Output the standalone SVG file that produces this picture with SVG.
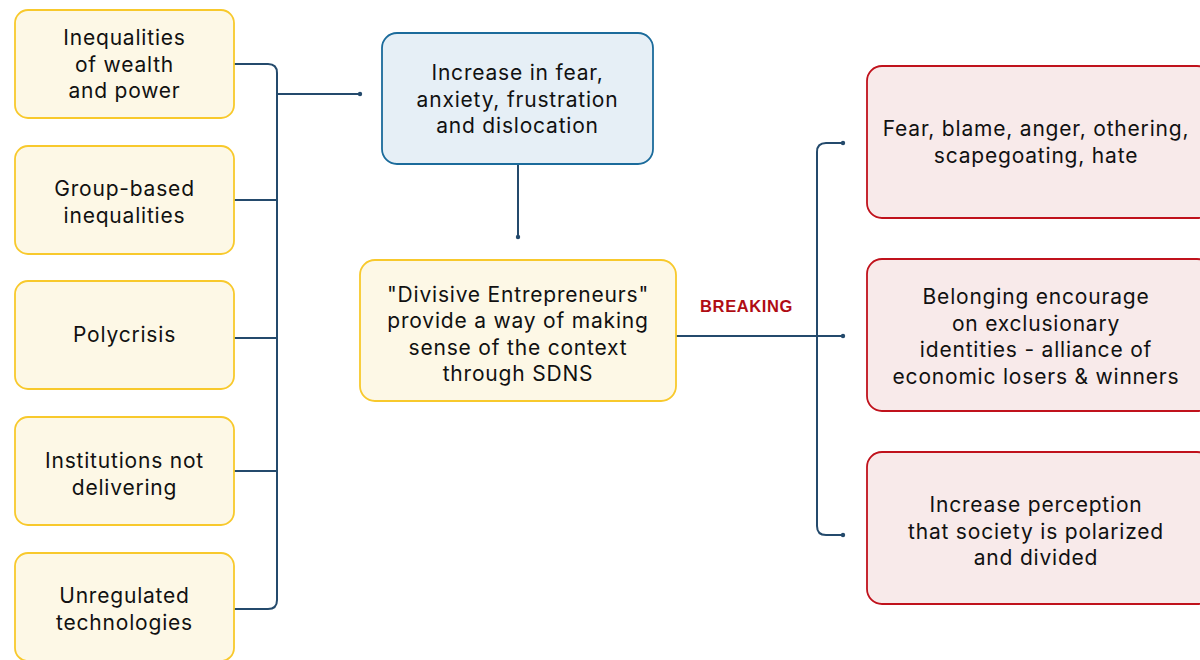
<svg xmlns="http://www.w3.org/2000/svg" width="1200" height="660" viewBox="0 0 1200 660">
<style>
.y{fill:#fdf8e6;stroke:#f8c92c;stroke-width:1.8}
.b{fill:#e6eff6;stroke:#1b6b9b;stroke-width:1.8}
.r{fill:#f8eaea;stroke:#c0121c;stroke-width:1.8}
.t{font-family:Inter,"Liberation Sans",sans-serif;font-size:21px;letter-spacing:0.8px;fill:#111;text-anchor:middle}
.c{fill:none;stroke:#244a6c;stroke-width:2}
.d{fill:#244a6c}
</style>
<rect width="1200" height="660" fill="#fff"/>
<g id="connectors">
<path class="c" d="M234 64 H268 Q277 64 277 73 V600 Q277 609 268 609 H234"/>
<path class="c" d="M234 200 H277 M234 338 H277 M234 471 H277 M277 94 H360"/>
<circle class="d" cx="360" cy="94" r="2.2"/>
<path class="c" d="M518 164 V237"/>
<circle class="d" cx="518" cy="237" r="2.2"/>
<path class="c" d="M676 336 H843"/>
<path class="c" d="M843 143 H826 Q817 143 817 152 V526 Q817 535 826 535 H843"/>
<circle class="d" cx="843" cy="143" r="2.2"/>
<circle class="d" cx="843" cy="336" r="2.2"/>
<circle class="d" cx="843" cy="535" r="2.2"/>
<text x="746.5" y="312" font-family="'Liberation Sans',Arial,sans-serif" font-size="16.5" font-weight="bold" letter-spacing="0.6" fill="#b00d14" text-anchor="middle">BREAKING</text>
</g>
<g id="n1"><rect class="y" x="15" y="10" width="219" height="108" rx="13"/>
<text class="t" x="124.5"><tspan x="124.5" y="45">Inequalities</tspan><tspan x="124.5" y="72">of wealth</tspan><tspan x="124.5" y="98">and power</tspan></text></g>
<g id="n2"><rect class="y" x="15" y="146" width="219" height="108" rx="13"/>
<text class="t"><tspan x="124.5" y="196">Group-based</tspan><tspan x="124.5" y="223">inequalities</tspan></text></g>
<g id="n3"><rect class="y" x="15" y="281" width="219" height="108" rx="13"/>
<text class="t" x="124.5" y="342">Polycrisis</text></g>
<g id="n4"><rect class="y" x="15" y="417" width="219" height="108" rx="13"/>
<text class="t"><tspan x="124.5" y="468">Institutions not</tspan><tspan x="124.5" y="495">delivering</tspan></text></g>
<g id="n5"><rect class="y" x="15" y="553" width="219" height="108" rx="13"/>
<text class="t"><tspan x="124.5" y="603">Unregulated</tspan><tspan x="124.5" y="630">technologies</tspan></text></g>
<g id="n6"><rect class="b" x="382" y="33" width="271" height="131" rx="15"/>
<text class="t"><tspan x="517.5" y="80">Increase in fear,</tspan><tspan x="517.5" y="107">anxiety, frustration</tspan><tspan x="517.5" y="133">and dislocation</tspan></text></g>
<g id="n7"><rect class="y" x="360" y="260" width="316" height="141" rx="15"/>
<text class="t"><tspan x="518" y="302">"Divisive Entrepreneurs"</tspan><tspan x="518" y="328">provide a way of making</tspan><tspan x="518" y="355">sense of the context</tspan><tspan x="518" y="381">through SDNS</tspan></text></g>
<g id="n8"><rect class="r" x="867" y="66" width="345" height="152" rx="15"/>
<text class="t"><tspan x="1036" y="136">Fear, blame, anger, othering,</tspan><tspan x="1036" y="163">scapegoating, hate</tspan></text></g>
<g id="n9"><rect class="r" x="867" y="259" width="345" height="152" rx="15"/>
<text class="t"><tspan x="1036" y="304">Belonging encourage</tspan><tspan x="1036" y="331">on exclusionary</tspan><tspan x="1036" y="357">identities - alliance of</tspan><tspan x="1036" y="384">economic losers &amp; winners</tspan></text></g>
<g id="n10"><rect class="r" x="867" y="452" width="345" height="152" rx="15"/>
<text class="t"><tspan x="1036" y="512">Increase perception</tspan><tspan x="1036" y="539">that society is polarized</tspan><tspan x="1036" y="565">and divided</tspan></text></g>
</svg>
